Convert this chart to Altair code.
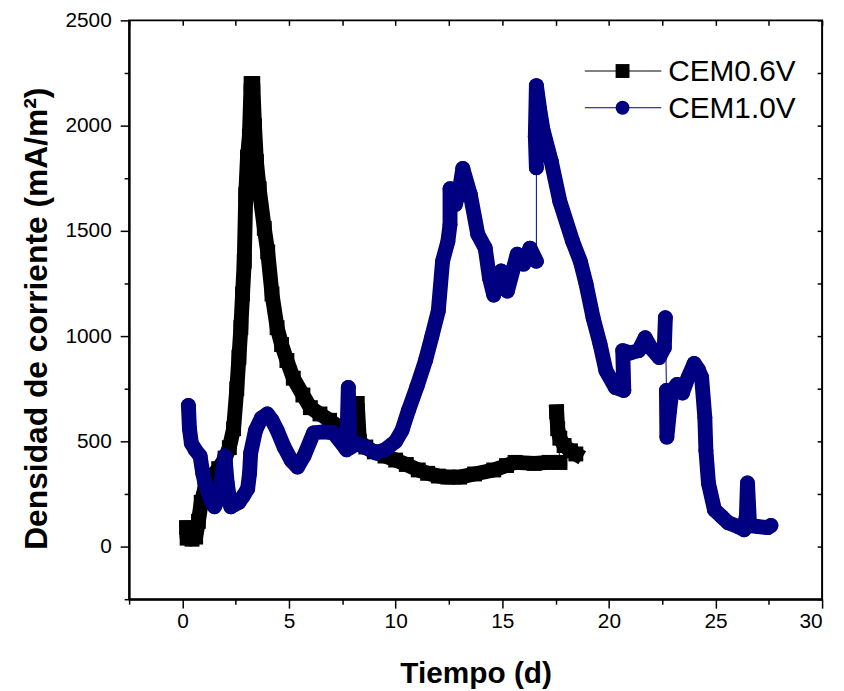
import altair as alt
import pandas as pd

# CEM0.6V  (black squares) - main run and the short piece after day 17.5
t06_a = [0.2, 0.22, 0.45, 0.62, 0.75, 0.88, 1.06, 1.34, 1.7, 2.0, 2.2, 2.4, 2.55, 2.65,
         2.74, 2.82, 2.9, 2.97, 3.05, 3.14, 3.22, 3.3, 3.38, 3.47, 3.6, 3.84, 4.0, 4.2,
         4.44, 4.65, 4.9, 5.2, 5.65, 6.0, 6.45, 6.9, 7.36, 7.7, 8.05, 8.2, 8.3, 8.6,
         9.0, 9.5, 10.0, 10.5, 11.06, 11.5, 12.0, 12.45, 13.0, 13.7, 14.6, 15.2, 15.6,
         16.5, 17.2, 17.7]
j06_a = [90, 40, 35, 45, 120, 210, 280, 330, 370, 420, 470, 560, 750, 900,
         1040, 1200, 1356, 1673, 1850, 1950, 2200, 2200, 2000, 1829, 1700, 1512, 1400, 1200,
         1040, 960, 884, 800, 720, 660, 630, 600, 567, 550, 530, 680, 500, 473,
         450, 430, 411, 390, 364, 348, 335, 330, 330, 345, 364, 385, 400,
         395, 400, 400]
t06_b = [17.55, 17.6, 17.7, 17.9, 18.2, 18.45]
j06_b = [640, 560, 515, 480, 455, 440]

# CEM1.0V  (navy circles) - three runs split by the two sudden jumps
t10_a = [0.28, 0.33, 0.42, 0.6, 0.83, 0.95, 1.06, 1.2, 1.34, 1.5, 1.7, 1.85, 1.99, 2.1,
         2.27, 2.45, 2.65, 2.85, 3.06, 3.15, 3.2, 3.43, 3.7, 3.98, 4.2, 4.44, 4.77, 5.1,
         5.4, 5.7, 6.15, 6.6, 7.08, 7.4, 7.7, 7.78, 7.85, 8.2, 8.6, 9.07, 9.5, 10.0,
         10.3, 10.6, 11.0, 11.4, 11.7, 12.0, 12.2, 12.45, 12.55, 12.55, 12.8, 13.0,
         13.15, 13.5, 13.85, 14.2, 14.4, 14.6, 14.95, 15.24, 15.7, 16.0, 16.3, 16.6]
j10_a = [670, 560, 491, 460, 430, 350, 300, 260, 222, 189, 230, 330, 430, 300,
         189, 200, 210, 240, 275, 350, 444, 553, 610, 630, 600, 553, 473, 410,
         378, 430, 540, 545, 540, 500, 460, 756, 470, 490, 470, 445, 460, 500,
         553, 647, 760, 884, 1000, 1120, 1356, 1450, 1531, 1700, 1625, 1700,
         1796, 1673, 1484, 1418, 1276, 1195, 1309, 1214, 1389, 1342, 1418, 1356]
t10_b = [16.6, 16.55, 16.6, 16.75, 16.9, 17.3, 17.7, 18.3, 18.66, 18.93, 19.26, 19.58,
         19.86, 20.3, 20.7, 20.65, 21.0, 21.4, 21.7, 22.0, 22.36, 22.6, 22.65]
j10_b = [1800, 1950, 2190, 2080, 1985, 1829, 1640, 1450, 1356, 1248, 1087, 964,
         836, 756, 742, 931, 920, 931, 992, 940, 898, 945, 1087]
t10_c = [22.7, 22.72, 22.85, 22.96, 23.2, 23.45, 23.7, 24.0, 24.2, 24.35, 24.5, 24.55,
         24.67, 24.95, 25.3, 25.6, 26.06, 26.34, 26.45, 26.5, 26.6, 27.0, 27.45, 27.6]
j10_c = [742, 520, 650, 742, 770, 730, 800, 870, 840, 803, 614, 458,
         302, 175, 142, 113, 95, 80, 150, 302, 100, 95, 90, 100]

series = ["CEM0.6V", "CEM1.0V"]
colors = ["#000000", "#000080"]
shapes = ["square", "circle"]

x_ticks = [-2.5, 0, 2.5, 5, 7.5, 10, 12.5, 15, 17.5, 20, 22.5, 25, 27.5, 30]
y_ticks = [-250, 0, 250, 500, 750, 1000, 1250, 1500, 1750, 2000, 2250, 2500]

rows = []
n = 0
for name, segs in [(series[0], [(t06_a, j06_a), (t06_b, j06_b)]),
                   (series[1], [(t10_a, j10_a), (t10_b, j10_b), (t10_c, j10_c)])]:
    for k, (ts, js) in enumerate(segs):
        for t, j in zip(ts, js):
            rows.append({"serie": name, "seg": f"{name}-{k}", "t": t, "j": j, "i": n})
            n += 1
df = pd.DataFrame(rows)

x_scale = alt.Scale(domain=[-2.5, 30], nice=False, zero=False)
y_scale = alt.Scale(domain=[-250, 2500], nice=False, zero=False)
color_scale = alt.Scale(domain=series, range=colors)

FONT = "Liberation Sans"

x_axis = alt.Axis(values=x_ticks, format="d",
                  labelExpr="datum.value % 5 === 0 ? datum.label : ''",
                  tickSize={"condition": {"test": "datum.value % 5 === 0", "value": 9}, "value": 5},
                  labelPadding=3, titlePadding=27, titleFontSize=30)
y_axis = alt.Axis(values=y_ticks, format="d",
                  labelExpr="datum.value % 500 === 0 ? datum.label : ''",
                  tickSize={"condition": {"test": "datum.value % 500 === 0", "value": 9}, "value": 5},
                  labelPadding=9, titlePadding=11, titleFontSize=32, titleY=300)

base = alt.Chart(df)
X = alt.X("t:Q", scale=x_scale, axis=None)
Y = alt.Y("j:Q", scale=y_scale, axis=None)
no_legend_color = alt.Color("serie:N", scale=color_scale, legend=None)

# thin connecting line, carries the bottom / left axes
thin = base.mark_line(strokeWidth=1).encode(
    x=alt.X("t:Q", scale=x_scale, axis=x_axis, title="Tiempo (d)"),
    y=alt.Y("j:Q", scale=y_scale, axis=y_axis, title="Densidad de corriente (mA/m²)"),
    color=no_legend_color,
    detail="serie:N",
    order="i:Q",
)

# top / right mirror ticks pointing inward
mirror = base.mark_line(strokeWidth=1, opacity=0).encode(
    x=alt.X("t:Q", scale=x_scale, axis=alt.Axis(orient="top", values=x_ticks, labels=False,
            domain=False, tickSize=5, offset=-5, title=None)),
    y=alt.Y("j:Q", scale=y_scale, axis=alt.Axis(orient="right", values=y_ticks, labels=False,
            domain=False, tickSize=5, offset=-5, title=None)),
    detail="serie:N",
    order="i:Q",
)


def band(name, cap, join):
    return base.transform_filter(alt.datum.serie == name).mark_line(
        strokeWidth=15, strokeCap=cap, strokeJoin=join
    ).encode(x=X, y=Y, color=no_legend_color, detail="seg:N", order="i:Q")


def markers(name):
    return base.transform_filter(alt.datum.serie == name).mark_point(
        filled=True, opacity=1, size=225
    ).encode(
        x=X, y=Y, color=no_legend_color,
        shape=alt.Shape("serie:N", scale=alt.Scale(domain=series, range=shapes), legend=None),
    )


# legend drawn by hand: thin line, marker, label
legend_parts = []
for k, name in enumerate(series):
    row = alt.Chart(pd.DataFrame({"serie": [name]}))
    ly = 51 + 37 * k
    legend_parts += [
        row.mark_rule(strokeWidth=1, color=colors[k]).encode(
            x=alt.value(459), x2=alt.value(536), y=alt.value(ly)),
        row.mark_point(filled=True, opacity=1, size=196, shape=shapes[k], color=colors[k]).encode(
            x=alt.value(497), y=alt.value(ly)),
        row.mark_text(align="left", baseline="middle", font=FONT, fontSize=30, color="black").encode(
            text="serie:N", x=alt.value(543), y=alt.value(ly + 1)),
    ]

chart = alt.layer(
    mirror,
    thin,
    band(series[0], "square", "bevel"),
    markers(series[0]),
    band(series[1], "round", "round"),
    markers(series[1]),
    *legend_parts,
).resolve_axis(
    x="independent", y="independent"
).properties(
    width=698, height=583,
    autosize=alt.AutoSizeParams(type="none"),
    padding={"left": 122, "top": 10, "right": 14, "bottom": 89},
).configure_view(
    stroke="black", strokeWidth=2
).configure_axis(
    domainColor="black", domainWidth=2, tickColor="black", tickWidth=1.5,
    grid=False, labelFont=FONT, labelFontSize=21, labelColor="black",
    titleFont=FONT, titleFontWeight="bold", titleColor="black",
)

chart.save("out.html", embed_options={"renderer": "svg", "actions": False})
